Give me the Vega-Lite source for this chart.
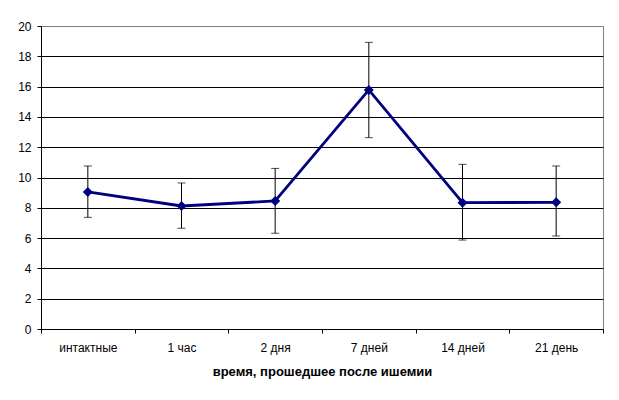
{
  "$schema": "https://vega.github.io/schema/vega-lite/v6.json",
  "autosize": "none",
  "width": 562,
  "height": 303,
  "padding": {"left": 41, "top": 26, "right": 16, "bottom": 71},
  "background": "white",
  "data": {
    "values": [
      {"group": "интактные", "mean": 9.05, "lo": 7.37, "hi": 10.76},
      {"group": "1 час", "mean": 8.12, "lo": 6.65, "hi": 9.64},
      {"group": "2 дня", "mean": 8.45, "lo": 6.32, "hi": 10.6},
      {"group": "7 дней", "mean": 15.78, "lo": 12.63, "hi": 18.92},
      {"group": "14 дней", "mean": 8.34, "lo": 5.87, "hi": 10.87},
      {"group": "21 день", "mean": 8.36, "lo": 6.14, "hi": 10.76}
    ]
  },
  "config": {
    "font": "Liberation Sans",
    "view": {"stroke": "#808080", "strokeWidth": 1},
    "axis": {
      "labelFont": "Liberation Sans",
      "labelFontSize": 12,
      "labelColor": "black",
      "domainColor": "black",
      "tickColor": "black",
      "tickSize": 4,
      "titleFont": "Liberation Sans",
      "titleColor": "black"
    },
    "axisY": {
      "title": null,
      "values": [0, 2, 4, 6, 8, 10, 12, 14, 16, 18, 20],
      "labelOverlap": false,
      "grid": true,
      "gridColor": {"condition": {"test": "datum.value == 20", "value": "#808080"}, "value": "black"},
      "gridOpacity": 1,
      "labelPadding": 6
    }
  },
  "encoding": {
    "x": {
      "field": "group",
      "type": "nominal",
      "sort": null,
      "scale": {"type": "band", "paddingInner": 0, "paddingOuter": 0},
      "axis": {
        "title": "время, прошедшее после ишемии",
        "titleFontSize": 13,
        "titleFontWeight": "bold",
        "titlePadding": 12,
        "labelAngle": 0,
        "labelPadding": 9,
        "tickBand": "extent",
        "grid": false
      }
    }
  },
  "layer": [
    {
      "mark": {"type": "rule", "color": "black", "strokeWidth": 1},
      "encoding": {
        "y": {
          "field": "lo",
          "type": "quantitative",
          "scale": {"domain": [0, 20], "nice": false},
          "axis": {"title": null, "values": [0, 2, 4, 6, 8, 10, 12, 14, 16, 18, 20]}
        },
        "y2": {"field": "hi"}
      }
    },
    {
      "mark": {"type": "tick", "color": "black", "size": 8, "thickness": 1},
      "encoding": {"y": {"field": "lo", "type": "quantitative", "axis": {"title": null, "values": [0, 2, 4, 6, 8, 10, 12, 14, 16, 18, 20]}}}
    },
    {
      "mark": {"type": "tick", "color": "black", "size": 8, "thickness": 1},
      "encoding": {"y": {"field": "hi", "type": "quantitative", "axis": {"title": null, "values": [0, 2, 4, 6, 8, 10, 12, 14, 16, 18, 20]}}}
    },
    {
      "mark": {"type": "line", "color": "#000080", "strokeWidth": 2.8},
      "encoding": {"y": {"field": "mean", "type": "quantitative", "axis": {"title": null, "values": [0, 2, 4, 6, 8, 10, 12, 14, 16, 18, 20]}}}
    },
    {
      "mark": {"type": "point", "shape": "diamond", "filled": true, "color": "#000080", "size": 100, "opacity": 1},
      "encoding": {"y": {"field": "mean", "type": "quantitative", "axis": {"title": null, "values": [0, 2, 4, 6, 8, 10, 12, 14, 16, 18, 20]}}}
    }
  ]
}
